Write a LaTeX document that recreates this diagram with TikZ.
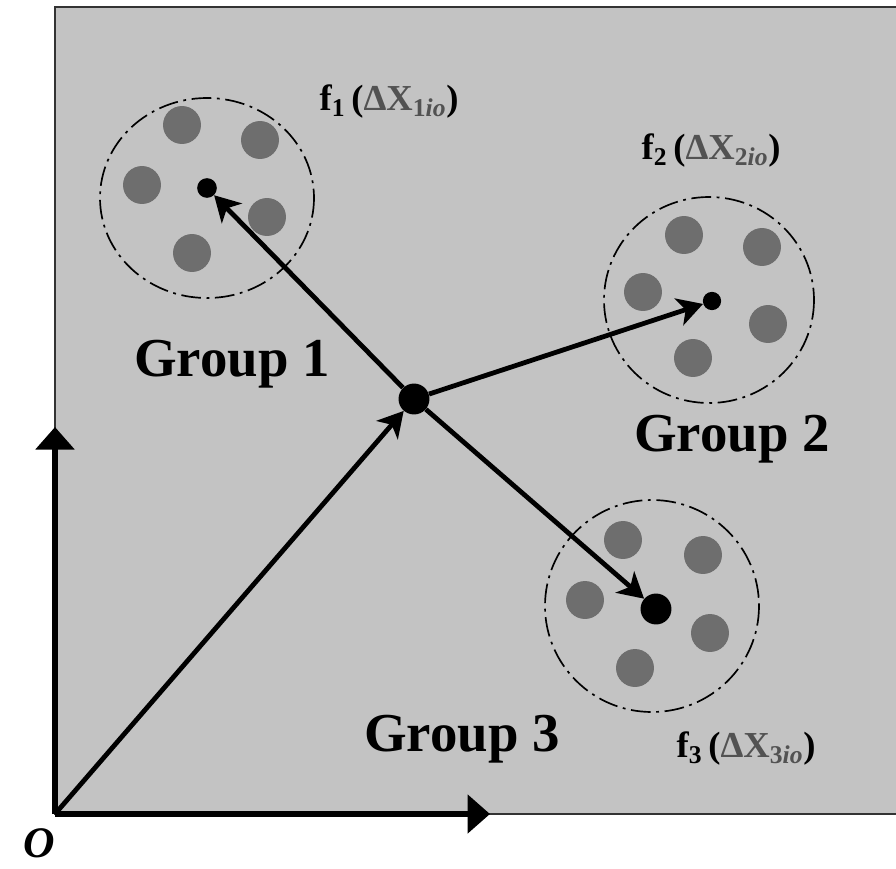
\documentclass[tikz,border=0pt]{standalone}
\usepackage{fontspec}
\setmainfont{Liberation Serif}
\usetikzlibrary{arrows.meta}

\definecolor{panelgray}{gray}{0.765}
\definecolor{dotgray}{gray}{0.43}
\definecolor{deltagray}{gray}{0.32}

% label of a group force: f_k (Delta X_kio)
\newcommand{\flab}[1]{f\textsubscript{#1}\,({\color{deltagray}ΔX\textsubscript{#1\textit{io}}})}

\tikzset{
  hub/.style={circle, fill=black, inner sep=0pt, minimum size=#1},
  member/.style={circle, fill=dotgray, inner sep=0pt, minimum size=27pt},
  halo/.style={draw=black, line width=1.2pt, dash pattern=on 14pt off 4pt on 2pt off 4pt},
  vec/.style={line width=3.4pt, -{Stealth[length=18pt, width=20pt, inset=5pt]}},
  axis/.style={line width=4.3pt, -{Triangle[length=16pt, width=27pt]}},
  grplabel/.style={font=\bfseries\fontsize{39}{42}\selectfont},
  flabel/.style={font=\bfseries\fontsize{26}{30}\selectfont}
}

\begin{document}
\begin{tikzpicture}[x=0.025cm, y=-0.025cm]
    \useasboundingbox (0,0) rectangle (896,869);

    % Grey panel
    \fill[panelgray] (55,7) rectangle (896,814);
    \draw[line width=1.5pt, black!80] (896,7) -- (55,7) -- (55,814) -- (896,814);

    % Axes
    \coordinate (o) at (55,814);
    \coordinate (ytip) at (55,427);
    \coordinate (xtip) at (490,814);
    \draw[axis] (o) -- (ytip);
    \draw[axis] (o) -- (xtip);
    \node[font=\bfseries\itshape\fontsize{31}{34}\selectfont, inner sep=0pt] (olab) at (39,843) {O};

    % Dashed halos round the groups
    \draw[halo] (207,198) ellipse [x radius=107, y radius=100];
    \draw[halo] (709,300) ellipse [x radius=105, y radius=103];
    \draw[halo] (652,606) ellipse [x radius=107, y radius=106];

    % Members of each group
    \foreach \x/\y [count=\k] in {182/125, 260/140, 142/185, 267/217, 192/253}
        \node[member] (a\k) at (\x,\y) {};
    \foreach \x/\y [count=\k] in {684/235, 762/247, 643/292, 768/324, 693/358}
        \node[member] (b\k) at (\x,\y) {};
    \foreach \x/\y [count=\k] in {623/540, 703/555, 585/600, 710/633, 635/668}
        \node[member] (c\k) at (\x,\y) {};

    % Centre and group centroids
    \node[hub=22pt] (cen) at (414,399) {};
    \node[hub=14pt] (g1) at (207,188) {};
    \node[hub=13pt] (g2) at (712,301) {};
    \node[hub=22pt] (g3) at (656,609) {};

    % Vectors
    \draw[vec] (o) -- (cen);
    \draw[vec] (cen) -- (g1);
    \draw[vec] (cen) -- (g2);
    \draw[vec] (cen) -- (g3);

    % Labels
    \node[grplabel] (grp1) at (232,364) {Group 1};
    \node[grplabel] (grp2) at (732,439) {Group 2};
    \node[grplabel] (grp3) at (462,739) {Group 3};
    \node[flabel] (f1) at (389,102) {\flab{1}};
    \node[flabel] (f2) at (711,151) {\flab{2}};
    \node[flabel] (f3) at (746,749) {\flab{3}};
\end{tikzpicture}
\end{document}
